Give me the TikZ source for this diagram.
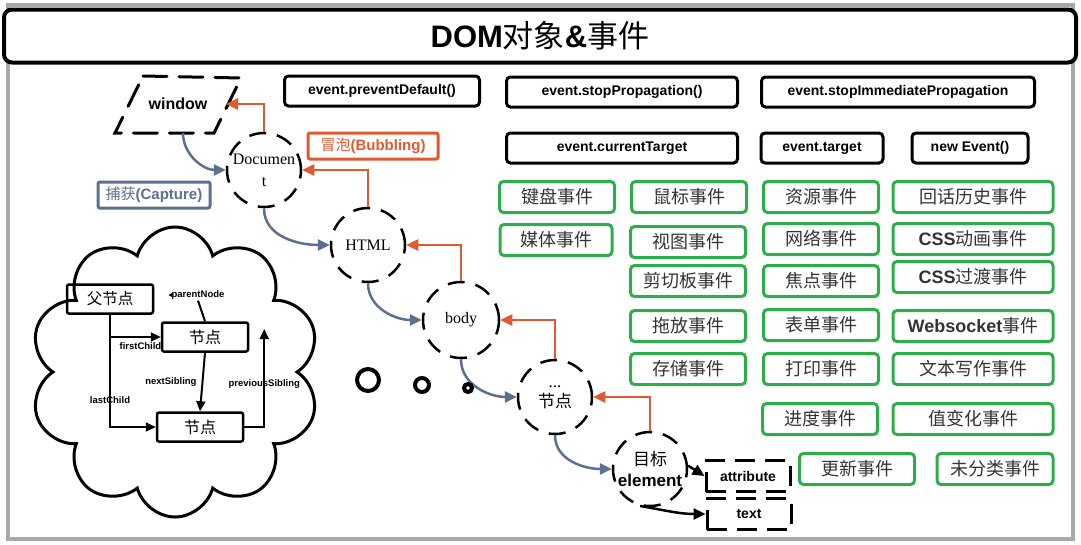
\documentclass[tikz,border=0pt]{standalone}
\usepackage{fontspec}
\setmainfont{Liberation Sans}
\newfontfamily\cjk{Noto Sans CJK SC}
\newfontfamily\tms{Liberation Serif}
\usetikzlibrary{arrows.meta,shapes.geometric,shapes.symbols}
\definecolor{framegray}{HTML}{A9A9A9}
\definecolor{evgreen}{HTML}{2DAE4B}
\definecolor{evtext}{HTML}{333333}
\definecolor{bubred}{HTML}{E05A30}
\definecolor{capblue}{HTML}{5B6F8E}
\newcommand\lat[1]{{\rmfamily\bfseries #1}}

\tikzset{
  apibox/.style={draw, line width=3pt, rounded corners=4pt, minimum height=30pt, inner sep=2pt, font=\fontsize{14}{16}\selectfont\bfseries},
  evbox/.style={draw=evgreen, line width=3pt, rounded corners=4pt, minimum width=115pt, minimum height=31pt, inner sep=2pt, text=evtext, font=\cjk\fontsize{18}{20}\selectfont},
  domcirc/.style={circle, draw, line width=2.5pt, dash pattern=on 17pt off 11pt, minimum size=74pt, inner sep=0pt, align=center},
  capline/.style={draw=capblue, line width=2.5pt, -{Triangle[length=12pt,width=11pt]}},
  bubline/.style={draw=bubred, line width=2.5pt, -{Triangle[length=12pt,width=11pt]}},
  treebox/.style={draw, line width=2.5pt, rounded corners=2pt, minimum width=86pt, minimum height=29pt, font=\cjk\fontsize{16}{18}\selectfont},
  treeline/.style={line width=2pt, -{Triangle[length=10pt,width=9pt]}},
  treelabel/.style={font=\fontsize{9.5}{11}\selectfont\bfseries, inner sep=1pt},
  partbox/.style={draw, line width=3pt, dash pattern=on 20pt off 10pt, minimum width=84pt, minimum height=31pt, font=\fontsize{14}{16}\selectfont\bfseries}
}

\begin{document}
\begin{tikzpicture}[x=1pt,y=-1pt]
\useasboundingbox (0,0) rectangle (1081,544);
% frame and title
\draw[framegray, line width=4pt] (8,5) rectangle (1073,539);
\node[draw, fill=white, line width=4pt, rounded corners=8pt, minimum width=1072pt, minimum height=53pt, font=\fontsize{31}{34}\selectfont] (title) at (540,36) {\lat{DOM}{\cjk 对象}\lat{\&}{\cjk 事件}};

% event api
\node[apibox, minimum width=195pt] (pd) at (382,91) {event.preventDefault()};
\node[apibox, minimum width=231pt] (sp) at (622,92) {event.stopPropagation()};
\node[apibox, minimum width=273pt] (sip) at (898,92) {event.stopImmediatePropagation};
\node[apibox, minimum width=231pt] (ct) at (622,148) {event.currentTarget};
\node[apibox, minimum width=122pt] (tg) at (822,148) {event.target};
\node[apibox, minimum width=116pt] (ne) at (970,148) {new Event()};

% event types
\node[evbox] (kb) at (557,197) {键盘事件};
\node[evbox, minimum width=112pt] (md) at (556,240) {媒体事件};
\node[evbox] (ms) at (689,197) {鼠标事件};
\node[evbox] (vw) at (688,242) {视图事件};
\node[evbox] (cb) at (688,281) {剪切板事件};
\node[evbox] (dd) at (688,326) {拖放事件};
\node[evbox] (st) at (688,369) {存储事件};
\node[evbox] (rs) at (821,197) {资源事件};
\node[evbox] (nw) at (821,239) {网络事件};
\node[evbox] (fc) at (821,281) {焦点事件};
\node[evbox] (fm) at (821,325) {表单事件};
\node[evbox] (pr) at (821,369) {打印事件};
\node[evbox] (pg) at (820,419) {进度事件};
\node[evbox, minimum width=160pt] (hs) at (973,197) {回话历史事件};
\node[evbox, minimum width=160pt] (an) at (973,239) {\lat{CSS}动画事件};
\node[evbox, minimum width=160pt] (tr) at (973,277) {\lat{CSS}过渡事件};
\node[evbox, minimum width=160pt] (ws) at (973,326) {\lat{Websocket}事件};
\node[evbox, minimum width=160pt] (tx) at (973,369) {文本写作事件};
\node[evbox, minimum width=160pt] (vc) at (973,419) {值变化事件};
\node[evbox] (up) at (857,469) {更新事件};
\node[evbox, minimum width=116pt] (uc) at (995,469) {未分类事件};

% propagation
\node[font=\fontsize{16}{18}\selectfont\bfseries] (win) at (178,104) {window};
\coordinate (wnw) at (143,76);
\coordinate (wne) at (241,78);
\coordinate (wse) at (214,133);
\coordinate (wsw) at (115,133);
\coordinate (weast) at (226,104);
\coordinate (wsouth) at (183,133);
\draw[line width=3pt, dash pattern=on 24pt off 12pt, line cap=round] (wnw) -- (wne) -- (wse) -- (wsw) -- cycle;
\node[domcirc, font=\tms\fontsize{16}{22}\selectfont] (doc) at (264,170) {Documen\\t};
\node[domcirc, font=\tms\fontsize{16}{18}\selectfont] (html) at (368,245) {HTML};
\node[domcirc, minimum size=76pt, font=\tms\fontsize{16}{18}\selectfont] (body) at (461,320) {body};
\node[domcirc, font=\fontsize{17}{24}\selectfont] (nd) at (555,397) {{\tms ...}\\[-4pt]{\cjk 节点}};
\node[domcirc, font=\fontsize{17}{21}\selectfont] (tgt) at (650,469) {{\cjk 目标}\\\lat{element}};
\node[partbox] (attr) at (748,476) {attribute};
\node[partbox] (txt) at (749,514) {text};

\node[draw=bubred, line width=3pt, rounded corners=2pt, text=bubred, minimum width=130pt, minimum height=26pt, font=\fontsize{15}{17}\selectfont] (bub) at (373,146) {{\cjk 冒泡}\lat{(Bubbling)}};
\node[draw=capblue, line width=3pt, rounded corners=2pt, text=capblue, minimum width=112pt, minimum height=26pt, font=\fontsize{15}{17}\selectfont] (cap) at (154,195) {{\cjk 捕获}\lat{(Capture)}};

\draw[capline] (wsouth) to[out=-90,in=180] (doc.west);
\draw[capline] (doc.south) to[out=-90,in=180] (html.west);
\draw[capline] (html.south) to[out=-90,in=180] (body.west);
\draw[capline] (body.south) to[out=-90,in=180] (nd.west);
\draw[capline] (nd.south) to[out=-90,in=180] (tgt.west);
\draw[bubline] (doc.north) |- (weast);
\draw[bubline] (html.north) |- (doc.east);
\draw[bubline] (body.north) |- (html.east);
\draw[bubline] (nd.north) |- (body.east);
\draw[bubline] (tgt.north) |- (nd.east);
\draw[line width=2.5pt, -{Triangle[length=12pt,width=11pt]}] (tgt.5) -- (attr.west);
\draw[line width=2.5pt, -{Triangle[length=12pt,width=11pt]}] (tgt.-105) to[out=-10,in=180] (txt.west);

% thought dots
\draw[line width=4pt] (368,380) circle (11) (422,385) circle (7) (468,388) circle (4);

% node tree cloud
\node[cloud, cloud puffs=10, aspect=1, draw, line width=3pt, minimum width=290pt, minimum height=290pt] (tree) at (175,372) {};
\node[treebox, font=\cjk\fontsize{15.5}{18}\selectfont] (par) at (110,299) {父节点};
\node[treebox] (n1) at (205,337) {节点};
\node[treebox] (n2) at (200,427) {节点};
\node[treelabel] (pn) at (198,295) {parentNode};
\draw[line width=2pt] (n1.north) -- (pn.south);
\draw[line width=1.5pt, -{Triangle[length=4pt,width=4pt]}] (pn.west) -- ++(-2,0);
\draw[treeline] (par.south) |- (n1.west) node[treelabel, pos=0.8, below=4pt] {firstChild};
\draw[treeline] (par.south) |- (n2.west) node[treelabel, pos=0.38] {lastChild};
\draw[treeline] (n1.south) -- (n2.north) node[treelabel, midway, left=4pt] {nextSibling};
\draw[treeline] (n2.east) -| ([xshift=15pt, yshift=8pt]n1.east) node[treelabel, pos=0.72] {previousSibling};
\end{tikzpicture}
\end{document}
